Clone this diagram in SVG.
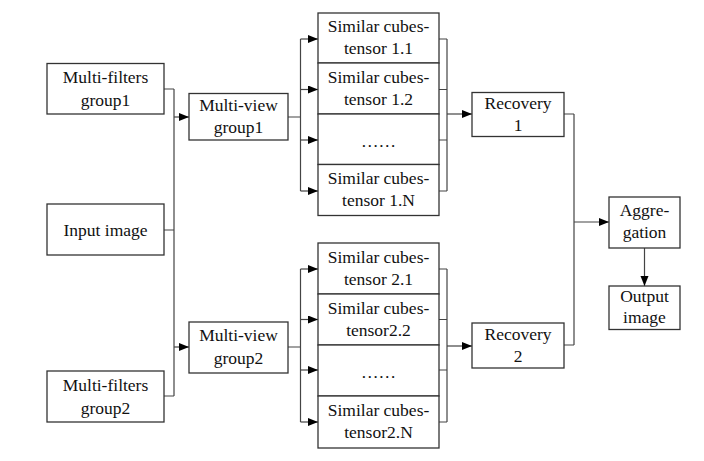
<svg xmlns="http://www.w3.org/2000/svg" width="704" height="461" viewBox="0 0 704 461">
<style>
.b{fill:#fff;stroke:#333;stroke-width:1.3}
.t{font-family:'Liberation Serif','Times New Roman',serif;font-size:17.5px;fill:#111;text-anchor:middle}
.c{fill:none;stroke:#444;stroke-width:1.2}
.a{fill:none;stroke:#444;stroke-width:1.2;marker-end:url(#ah)}
</style>
<defs>
<marker id="ah" markerUnits="userSpaceOnUse" markerWidth="11" markerHeight="9" refX="10" refY="4" orient="auto">
<path d="M0,0 L10,4 L0,8 z" fill="#000"/>
</marker>
</defs>
<rect width="704" height="461" fill="#fff"/>
<g id="connectors">
<path class="c" d="M164,89 H174 M164,230 H174 M164,396 H174 M174,89 V396"/>
<path class="a" d="M174,117 H189"/>
<path class="a" d="M174,347 H189"/>
<path class="c" d="M288,117 H300.5 M300.5,39 V191"/>
<path class="a" d="M300.5,39 H318"/>
<path class="a" d="M300.5,89.5 H318"/>
<path class="a" d="M300.5,140 H318"/>
<path class="a" d="M300.5,191 H318"/>
<path class="c" d="M439,39 H447 M439,89.5 H447 M439,140 H447 M439,191 H447 M447,39 V191"/>
<path class="a" d="M447,114 H472"/>
<path class="c" d="M288,347 H300.5 M300.5,269 V422"/>
<path class="a" d="M300.5,269 H318"/>
<path class="a" d="M300.5,319.5 H318"/>
<path class="a" d="M300.5,370 H318"/>
<path class="a" d="M300.5,422 H318"/>
<path class="c" d="M439,269 H447 M439,319.5 H447 M439,370 H447 M439,422 H447 M447,269 V422"/>
<path class="a" d="M447,346 H472"/>
<path class="c" d="M564,114 H574 M564,345 H574 M574,114 V345"/>
<path class="a" d="M574,222 H609"/>
<path class="a" d="M644.5,248 V286"/>
</g>
<g id="mf1"><rect class="b" x="47" y="63.5" width="117" height="50.5"/><text class="t" font-family="Liberation Serif, serif" x="105.5" y="83">Multi-filters</text><text class="t" font-family="Liberation Serif, serif" x="105.5" y="106">group1</text></g>
<g id="input"><rect class="b" x="47" y="204" width="117" height="51"/><text class="t" font-family="Liberation Serif, serif" x="105.5" y="236">Input image</text></g>
<g id="mf2"><rect class="b" x="47" y="371" width="117" height="51"/><text class="t" font-family="Liberation Serif, serif" x="105.5" y="391">Multi-filters</text><text class="t" font-family="Liberation Serif, serif" x="105.5" y="414">group2</text></g>
<g id="mv1"><rect class="b" x="189" y="93.5" width="99" height="46.5"/><text class="t" font-family="Liberation Serif, serif" x="238.5" y="111">Multi-view</text><text class="t" font-family="Liberation Serif, serif" x="238.5" y="133">group1</text></g>
<g id="mv2"><rect class="b" x="189" y="322" width="99" height="51"/><text class="t" font-family="Liberation Serif, serif" x="238.5" y="341">Multi-view</text><text class="t" font-family="Liberation Serif, serif" x="238.5" y="364">group2</text></g>
<g id="t11"><rect class="b" x="318" y="13" width="121" height="50"/><text class="t" font-family="Liberation Serif, serif" x="378.5" y="32">Similar cubes-</text><text class="t" font-family="Liberation Serif, serif" x="378.5" y="54">tensor 1.1</text></g>
<g id="t12"><rect class="b" x="318" y="63" width="121" height="51"/><text class="t" font-family="Liberation Serif, serif" x="378.5" y="82.5">Similar cubes-</text><text class="t" font-family="Liberation Serif, serif" x="378.5" y="104.5">tensor 1.2</text></g>
<g id="t1d"><rect class="b" x="318" y="114" width="121" height="50.5"/><text class="t" font-family="Liberation Serif, serif" x="378.5" y="147">……</text></g>
<g id="t1n"><rect class="b" x="318" y="164.5" width="121" height="51"/><text class="t" font-family="Liberation Serif, serif" x="378.5" y="184">Similar cubes-</text><text class="t" font-family="Liberation Serif, serif" x="378.5" y="206">tensor 1.N</text></g>
<g id="t21"><rect class="b" x="318" y="243" width="121" height="51"/><text class="t" font-family="Liberation Serif, serif" x="378.5" y="262.5">Similar cubes-</text><text class="t" font-family="Liberation Serif, serif" x="378.5" y="284.5">tensor 2.1</text></g>
<g id="t22"><rect class="b" x="318" y="294" width="121" height="51"/><text class="t" font-family="Liberation Serif, serif" x="378.5" y="313.5">Similar cubes-</text><text class="t" font-family="Liberation Serif, serif" x="378.5" y="335.5">tensor2.2</text></g>
<g id="t2d"><rect class="b" x="318" y="345" width="121" height="51"/><text class="t" font-family="Liberation Serif, serif" x="378.5" y="378">……</text></g>
<g id="t2n"><rect class="b" x="318" y="396" width="121" height="52"/><text class="t" font-family="Liberation Serif, serif" x="378.5" y="416">Similar cubes-</text><text class="t" font-family="Liberation Serif, serif" x="378.5" y="438">tensor2.N</text></g>
<g id="rec1"><rect class="b" x="472" y="92.5" width="92" height="44"/><text class="t" font-family="Liberation Serif, serif" x="518" y="109">Recovery</text><text class="t" font-family="Liberation Serif, serif" x="518" y="131">1</text></g>
<g id="rec2"><rect class="b" x="472" y="323" width="92" height="45"/><text class="t" font-family="Liberation Serif, serif" x="518" y="340">Recovery</text><text class="t" font-family="Liberation Serif, serif" x="518" y="362">2</text></g>
<g id="agg"><rect class="b" x="609" y="197" width="71" height="51"/><text class="t" font-family="Liberation Serif, serif" x="644.5" y="216">Aggre-</text><text class="t" font-family="Liberation Serif, serif" x="644.5" y="238">gation</text></g>
<g id="out"><rect class="b" x="609" y="286" width="71" height="43.5"/><text class="t" font-family="Liberation Serif, serif" x="644.5" y="302">Output</text><text class="t" font-family="Liberation Serif, serif" x="644.5" y="323">image</text></g>
</svg>
